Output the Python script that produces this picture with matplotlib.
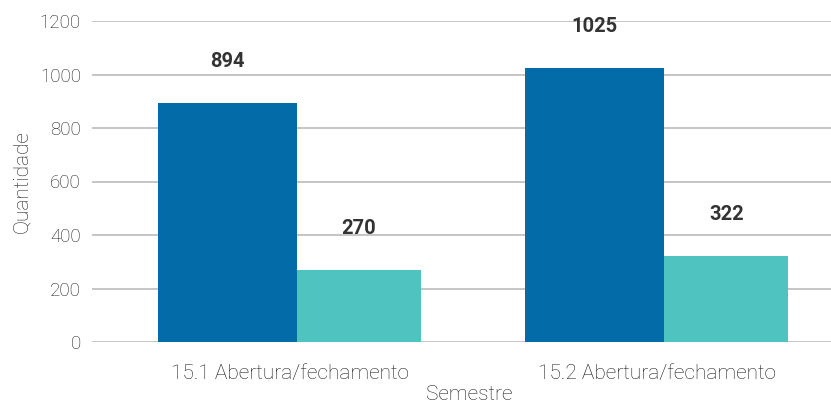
import matplotlib.pyplot as plt
import numpy as np

# Dados
semestres = ['15.1 Abertura/fechamento', '15.2 Abertura/fechamento']
serie_a = [894, 1025]
serie_b = [270, 322]

cor_a = '#036ba7'
cor_b = '#4fc3bf'
cor_texto = '#1e1e1e'

plt.rcParams['font.family'] = ['Roboto', 'DejaVu Sans']

fig = plt.figure(figsize=(8.31, 4.03), dpi=100)
ax = fig.add_axes([92/831, 61/403, 1 - 92/831, (342-21)/403])

x = np.arange(len(semestres))
barras_a = ax.bar(x - 0.358, serie_a, width=0.379, align='edge', color=cor_a)
barras_b = ax.bar(x + 0.021, serie_b, width=0.337, align='edge', color=cor_b)

# Rótulos das barras
for barras in (barras_a, barras_b):
    for b in barras:
        ax.annotate(f'{int(b.get_height())}',
                    (b.get_x() + b.get_width()/2, b.get_height()),
                    xytext=(0, 30), textcoords='offset points',
                    ha='center', va='center', fontsize=14.5,
                    fontweight='bold', color='#333333')

ax.set_xlim(-0.538, 1.475)
ax.set_ylim(0, 1200)
ax.set_yticks(np.arange(0, 1201, 200))
ax.set_xticks(x)
ax.set_xticklabels(semestres)
ax.grid(axis='y', color='#c0c0c0', linewidth=1.3)
ax.set_axisbelow(True)
for s in ax.spines.values():
    s.set_visible(False)
ax.tick_params(length=0, labelcolor=cor_texto)
ax.tick_params(axis='x', pad=16, labelsize=15)
ax.tick_params(axis='y', pad=8, labelsize=13.5)
for t in ax.get_xticklabels() + ax.get_yticklabels():
    t.set_fontweight('light')

ax.set_ylabel('Quantidade', fontsize=15, color=cor_texto, fontweight='light', labelpad=6)
fig.text(469/831, 1 - 394/403, 'Semestre', ha='center', va='center',
         fontsize=15, color=cor_texto, fontweight='light')

fig.savefig('out.png', dpi=100)
